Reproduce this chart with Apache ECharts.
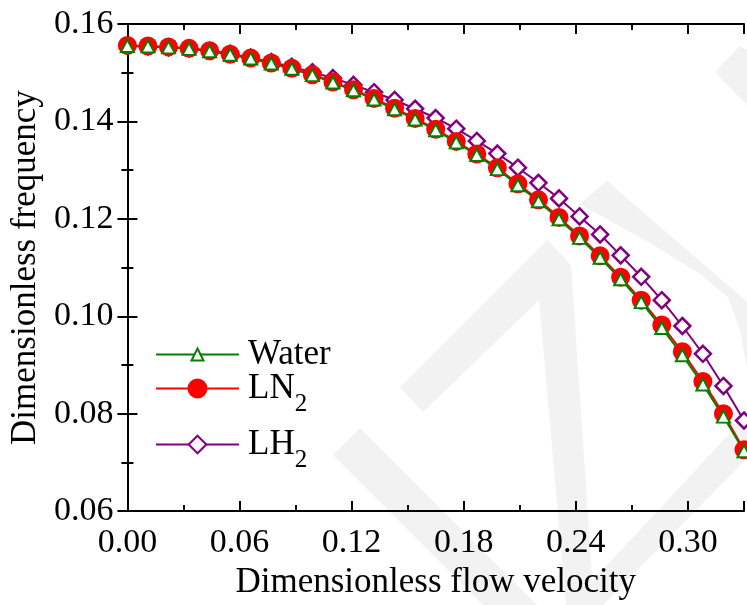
<!DOCTYPE html>
<html><head><meta charset="utf-8">
<script src="https://cdn.jsdelivr.net/npm/echarts@6/dist/echarts.min.js"></script>
<style>html,body{margin:0;padding:0;background:#fff}#c{width:747px;height:605px}</style>
</head><body><div id="c"></div>
<script>
// ---- data ----
const xs = [0, 0.011, 0.022, 0.033, 0.044, 0.055, 0.066, 0.077, 0.088, 0.099, 0.11,
  0.121, 0.132, 0.143, 0.154, 0.165, 0.176, 0.187, 0.198, 0.209, 0.22,
  0.231, 0.242, 0.253, 0.264, 0.275, 0.286, 0.297, 0.308, 0.319, 0.33];
const water = [0.1555, 0.1554, 0.1552, 0.1549, 0.1544, 0.1537, 0.1529, 0.1519, 0.1508, 0.1495, 0.1480,
  0.1464, 0.1445, 0.1425, 0.1404, 0.1382, 0.1357, 0.1331, 0.1302, 0.1269, 0.1236,
  0.1199, 0.1161, 0.1120, 0.1076, 0.1029, 0.0976, 0.0920, 0.0860, 0.0794, 0.0723];
const ln2 = [0.1556, 0.1555, 0.1553, 0.1550, 0.1545, 0.1538, 0.1530, 0.1520, 0.1509, 0.1496, 0.1481,
  0.1465, 0.1447, 0.1427, 0.1406, 0.1384, 0.1359, 0.1333, 0.1305, 0.1272, 0.1239,
  0.1203, 0.1165, 0.1124, 0.1080, 0.1033, 0.0982, 0.0927, 0.0866, 0.0800, 0.0726];
const lh2 = [0.1555, 0.1554, 0.1552, 0.1550, 0.1545, 0.1539, 0.1531, 0.1522, 0.1512, 0.1501, 0.1489,
  0.1475, 0.1460, 0.1444, 0.1426, 0.1407, 0.1385, 0.1360, 0.1334, 0.1305, 0.1274,
  0.1242, 0.1205, 0.1168, 0.1125, 0.1081, 0.1033, 0.0980, 0.0923, 0.0857, 0.0786];
const seriesNames = ['Water', 'LN2', 'LH2'];
const xTickLabels = ['0.00', '0.06', '0.12', '0.18', '0.24', '0.30'];
const yTickLabels = ['0.06', '0.08', '0.10', '0.12', '0.14', '0.16'];
const xTitle = 'Dimensionless flow velocity';
const yTitle = 'Dimensionless frequency';

// ---- chart ----
const FONT = 'Liberation Serif';
const chart = echarts.init(document.getElementById('c'), null, {renderer: 'canvas'});
const BLACK = '#000';

function fmtLabel(v, arr) {
  const s = v.toFixed(2);
  return arr.indexOf(s) >= 0 ? s : '';
}
function ax(kind, position, major, extra) {
  const isX = kind === 'x';
  const base = {
    type: 'value',
    position: position,
    min: isX ? 0 : 0.06,
    max: isX ? 0.33 : 0.16,
    interval: isX ? (major ? 0.06 : 0.03) : (major ? 0.02 : 0.01),
    axisLine: {show: major, lineStyle: {color: BLACK, width: 2}},
    axisTick: {show: true, inside: true, length: major ? 10 : 6, lineStyle: {color: BLACK, width: 2}},
    axisLabel: {show: false},
    splitLine: {show: false}
  };
  return Object.assign(base, extra || {});
}
const legendRich = {
  n: {fontFamily: FONT, fontSize: 35, lineHeight: 34, color: BLACK, padding: [0, 0, 0, 4]},
  m: {fontFamily: FONT, fontSize: 35, lineHeight: 56, color: BLACK, padding: [0, 0, 0, 4]},
  s: {fontFamily: FONT, fontSize: 25, lineHeight: 24, color: BLACK, verticalAlign: 'bottom'}
};
function legendFmt(name) {
  if (name === 'LN2') return '{m|LN}{s|2}';
  if (name === 'LH2') return '{m|LH}{s|2}';
  return '{n|' + name + '}';
}
function makeLegend(name, top, ih) {
  return {
    data: [name], left: 155, top: top, orient: 'vertical', padding: 0,
    itemWidth: 83, itemHeight: ih, selectedMode: false,
    formatter: legendFmt,
    textStyle: {rich: legendRich, fontFamily: FONT, fontSize: 35, color: BLACK}
  };
}
const WM = '#f2f2f2';
function poly(points) {
  return {type: 'polygon', z: -10, silent: true, shape: {points: points}, style: {fill: WM}};
}

const option = {
  backgroundColor: '#fff',
  animation: false,
  textStyle: {fontFamily: FONT},
  graphic: [
    poly([[400,387],[547,240],[571,265],[594,605],[566,605],[539,300],[423,412]]),
    poly([[333,455],[360,428],[537,605],[483,605]]),
    poly([[580,204],[607,181],[747,302],[747,368],[740,330],[728,297],[700,274],[650,243]]),
    poly([[747,415],[747,458],[603,605],[570,605]]),
    poly([[715,72],[740,46],[747,50],[747,105]])
  ],
  grid: {left: 126, top: 24, width: 622, height: 501, containLabel: false},
  xAxis: [
    ax('x', 'bottom', true, {
      axisLabel: {show: true, margin: 15, fontFamily: FONT, fontSize: 34, color: BLACK,
        formatter: v => fmtLabel(v, xTickLabels)},
      name: xTitle, nameLocation: 'middle', nameGap: 43,
      nameTextStyle: {fontFamily: FONT, fontSize: 35, color: BLACK}
    }),
    ax('x', 'bottom', false),
    ax('x', 'top', true),
    ax('x', 'top', false)
  ],
  yAxis: [
    ax('y', 'left', true, {
      axisLabel: {show: true, margin: 14, fontFamily: FONT, fontSize: 34, color: BLACK,
        formatter: v => fmtLabel(v, yTickLabels)},
      name: yTitle, nameLocation: 'middle', nameGap: 81,
      nameTextStyle: {fontFamily: FONT, fontSize: 35, color: BLACK}
    }),
    ax('y', 'left', false),
    ax('y', 'right', true),
    ax('y', 'right', false)
  ],
  legend: [
    makeLegend('Water', 337, 15),
    makeLegend('LN2', 371, 25),
    makeLegend('LH2', 427, 22)
  ],
  series: [
    {
      name: seriesNames[2], type: 'line', xAxisIndex: 0, yAxisIndex: 0,
      data: xs.map((x, i) => [x, lh2[i]]),
      symbol: 'diamond', symbolSize: 16,
      itemStyle: {color: '#fff', borderColor: '#800080', borderWidth: 2.5},
      lineStyle: {color: '#800080', width: 2}
    },
    {
      name: seriesNames[1], type: 'line', xAxisIndex: 0, yAxisIndex: 0,
      data: xs.map((x, i) => [x, ln2[i]]),
      symbol: 'circle', symbolSize: 19,
      itemStyle: {color: '#ff0000', borderWidth: 0},
      lineStyle: {color: '#ff0000', width: 2}
    },
    {
      name: seriesNames[0], type: 'line', xAxisIndex: 0, yAxisIndex: 0,
      data: xs.map((x, i) => [x, water[i]]),
      symbol: 'triangle', symbolSize: [13, 12],
      itemStyle: {color: '#fff', borderColor: '#008000', borderWidth: 2},
      lineStyle: {color: '#008000', width: 2}
    }
  ]
};
chart.setOption(option);
</script>
</body></html>
